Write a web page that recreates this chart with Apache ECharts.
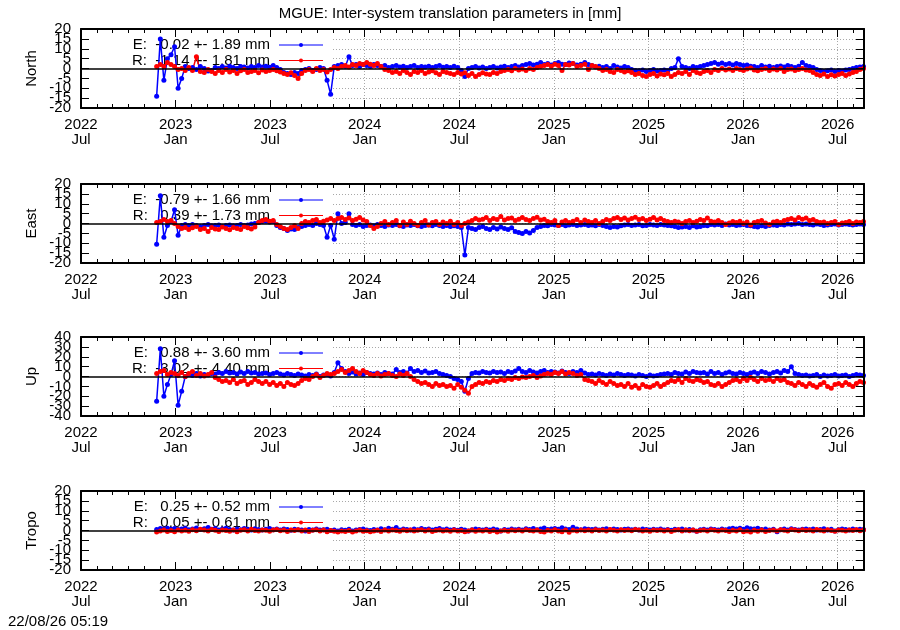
<!DOCTYPE html>
<html>
<head>
<meta charset="utf-8">
<title>MGUE inter-system translation</title>
<script src="https://cdn.jsdelivr.net/npm/echarts@6.0.0/dist/echarts.min.js"></script>
<style>
  html, body { margin: 0; padding: 0; background: #fff; }
  #chart-view { width: 900px; height: 630px; }
</style>
</head>
<body>
<div id="chart-view"></div>
<script>
// weekly samples, first one on startDate
var startDate = [2022, 11, 25];
var endDate = [2026, 8, 22];
var stepDays = 7;
var halfYearNames = ['Jan', 'Jul'];
var panelNames = ['North', 'East', 'Up', 'Tropo'];
var yRanges = [[-20, 20, 5], [-20, 20, 5], [-40, 40, 10], [-20, 20, 5]];
var legendE = ['E:  -0.02 +- 1.89 mm', 'E:  -0.79 +- 1.66 mm', 'E:   0.88 +- 3.60 mm', 'E:   0.25 +- 0.52 mm'];
var legendR = ['R:  -1.14 +- 1.81 mm', 'R:   0.39 +- 1.73 mm', 'R:  -3.02 +- 4.40 mm', 'R:   0.05 +- 0.61 mm'];

// North
var nE = [-14, 15, -6, 5, 7, 11, -10, -5, 1, 0,
  0.5, -0.5, 1, 0, -1.3, -1, 0.5, 0, 1, 0.3,
  1.2, 0.5, 0, 1, 0.8, 0.2, 1, 0.5, 1.5, 0.8,
  1.2, 0.6, 1.5, 0.5, -0.5, -2, -2.5, -3, -2, -2.5,
  -1, -0.5, 0, -1, -0.5, 0.5, 0, -6, -13, 1,
  1.5, 2, 1, 6, 1.5, 2, 1, 2, 1.5, 1,
  2, 1.5, 1, 1.5, 0.5, 1, 1.5, 0.8, 1.2, 0.5,
  1, 1.5, 0.5, 1, 0.8, 1.2, 0.5, 1, 1.5, 0.6,
  1, 0.5, 1.2, 0.5, -1, -4, 0, 0.5, 1, 0.3,
  0.8, 0, 0.5, 1, 0.2, 0.8, 1.2, 0.5, 1, 1.5,
  0.8, 1.5, 2, 2.5, 1.8, 2.2, 3, 2, 2.5, 1.8,
  2.5, 3, 2.2, 2, 2.8, 2.5, 1.8, 2.2, 3, 2,
  1.5, 0.8, 1.2, 0.5, 1, 0, 1.5, 0.8, 0.2, 1,
  0.5, -0.5, -1, -1.2, -0.8, -1.5, -1, -0.5, -1.3, -1,
  -0.8, -1.2, 0, 0.5, 5, 1, 0.5, 0, 1, 0.5,
  1, 1.5, 2, 2.5, 3, 2.2, 2.8, 2, 2.5, 1.8,
  2.5, 2, 1.5, 1.8, 1.2, 1, 0.5, 1.5, 0.8, 1.2,
  0.5, 1, 1.3, 0.8, 1.5, 1, 0.5, 1.2, 3, 1.5,
  1, 0.5, -0.5, -1, -1.5, -1.2, -0.8, -1.5, -1, -1.3,
  -0.8, -0.5, 0, 0.5, 0.8, 1];
var nR = [1, 2, 1, 3, 2, 1, -0.5, 0, -1, 0.5,
  -1, 6, -1.5, -2, -0.5, -1.5, -2.5, -1, -2, -0.5,
  -1.8, -1, -2.5, -1.2, -0.5, -2, -1.5, -1, -2.2, -0.8,
  -1.5, -1, -0.5, -1.2, -1.8, -2.5, -3, -2.2, -3.5, -5,
  -2.5, -1, -0.5, -1.5, 0, -1, -0.5, -1.8, -0.5, 0.5,
  0, 1, 1.5, 0.8, 2, 1.5, 2.5, 2, 3, 2.2,
  1.5, 2.5, 1, -0.5, -1, -2, -1.5, -2.5, -1, -2,
  -3, -1.5, -2, -1, -2.5, -1.8, -1.2, -2.2, -3, -1.5,
  -2, -2.5, -3, -2, -2.8, -2.2, -3.5, -2.5, -4, -3,
  -2.2, -2.8, -3, -2, -2.5, -1.5, -1, -0.5, -1.2, 0,
  -0.8, -0.3, -1, 0, -0.5, 0.5, 1, 1.5, 2, 1.2,
  2.2, 1.5, -1, 2, 1.8, 2.5, 1, 1.5, 2.2, -0.5,
  1.5, 1, 0, -1, -0.5, -1.5, -2, -0.5, -1, -1.8,
  -1.2, -2, -3, -2.5, -3.5, -4, -3, -2.5, -3.8, -2.8,
  -3.2, -2.5, -4, -3, -2, -2.5, -1.5, -3, -1, -2,
  -2.5, -1.5, -1, -2, -0.5, -1, 0, -0.8, -0.3, -1,
  0, -0.5, -1, -0.2, 0.2, -0.8, -1.2, -0.5, 0, -1,
  -0.3, -0.8, 0, -1.5, -0.5, -0.2, -1, -0.5, 0, -0.8,
  -1, -2, -3, -3.5, -2.8, -4, -3.2, -3.8, -3, -2.5,
  -3.5, -2.8, -2, -1.5, -0.5, 0];

// East
var eE = [-10.5, 14, -7, -1, 1, 7, -6, -1, -0.5, -1,
  -0.5, -1, -1.5, -1, -0.5, -1.2, -1, -0.8, -1.5, -1,
  -0.8, -1.2, -1, -0.5, -1, -0.8, -0.3, 0, 0.5, 1,
  1.2, 0.8, 1, -1, -2, -2.5, -3.5, -2.8, -3, -2,
  -1.5, -1, -0.5, -1, 0, -0.5, -1, -7, -1, -8,
  5, 0, 0.5, 5, -0.5, -1, -0.5, -1.5, -1, -0.8,
  -1.2, -0.5, -1, -1.5, -0.8, -1, -0.5, -1.2, -1.5, -0.8,
  -1, -0.5, -1.2, -1.5, -1, -0.8, -1.2, -0.5, -1, -1.5,
  -1, -1.5, -1.2, -1.5, -2, -16, -2, -2.5, -3, -2,
  -1.5, -2.5, -3, -2, -2.8, -1.8, -2.5, -3, -2.2, -4,
  -4.5, -5, -4, -4.8, -3.5, -2, -1.5, -1, -1.2, -0.5,
  -0.8, -1, -0.5, -1.2, -0.8, -0.5, -1, -0.8, -0.5, -1,
  -0.8, -1.2, -0.5, -1, -1.5, -2, -1.5, -1.8, -1.2, -0.8,
  -0.5, -1, -0.8, -0.5, -1.2, -1, -0.5, -0.8, -1, -0.5,
  -0.8, -1, -1.2, -1.5, -2, -1.8, -1.5, -2, -1.2, -1.8,
  -1.5, -1, -1.2, -0.5, -0.8, -0.5, -1, -0.3, -0.8, -0.5,
  -1, -0.8, -0.5, -1, -1.2, -1.5, -1.8, -1.2, -1.5, -1,
  -0.8, -1, -0.5, -0.8, -0.3, -0.5, -0.2, 0, -0.5, -0.3,
  -0.5, -0.8, -0.3, -0.5, -1, -0.8, -0.5, -0.3, -0.8, -0.5,
  -0.3, -0.5, -0.8, -0.5, -0.2, -0.5];
var eR = [0.5, 1, 2, 1, 1.5, 0, -1.5, -2.5, -2, -3,
  -2.2, -1.5, -3, -2.5, -4, -2, -2.8, -3, -1.8, -2.5,
  -3.2, -2, -2.5, -3, -1.5, -2.2, -2.8, -1.8, 0.5, 1.5,
  2, 1.2, 1.5, -0.5, -1.5, -2.5, -3, -2, -1.2, -2.5,
  0, 1, 0.5, 1.5, 2, 0.5, 1.2, 1.8, 2.5, 1.5,
  2.5, 3, 2, 2.8, 1.5, 2.2, 3, 1.8, 1, -1,
  -2.5, -1.5, 0, 1, -0.5, 0.5, 1.5, -1, 0.8, -0.5,
  1.2, 0, -1, 0.5, 1.5, -0.8, 0.5, 1, -0.5, 0.8,
  0, 1.2, -0.5, 0.5, -1, 0, 0.8, 1.5, 2.5, 1.8,
  2.2, 3, 1.5, 2.5, 2, 3.5, 1.8, 2.5, 2.8, 1.5,
  2.2, 3, 2, 1.5, 2.5, 3.2, 1.8, 2.2, 1, 0.5,
  1.5, -1, 0.8, 1.5, 0.5, 1.2, 2, 0.5, 1.8, 1,
  0.5, 1.5, 0, 1, 2, 1.5, 2.5, 3, 2, 2.8,
  1.8, 2.5, 3.2, 2, 2.5, 1.5, 2.2, 3, 1.8, 2.5,
  1.5, 1, 0.5, 1.2, 0.8, 0, 1, 1.5, 0.5, 1.2,
  2, 1.5, 2.8, 1.2, 0.8, 1.5, 0.5, -0.5, 0.2, 1,
  0.5, 1.2, 0, 0.8, -0.8, 0.5, 1, 1.5, 0.2, -0.5,
  0.8, 1.2, 0.5, 1.5, 2, 2.5, 1.8, 3, 2.2, 2.8,
  1.5, 2, 1, 0.5, 0.8, 0, 0.5, 1, -0.5, 0.2,
  0.5, 1, 0, 0.8, 0.5, 1];

// Up
var uE = [-25, 28, -20, -8, 2, 16, -29, -15, 0, 2,
  1, 3, 0.5, 2, 1.5, 3, 2.5, 4, 3, 5,
  3.5, 4, 2.5, 4.5, 3, 5, 3.5, 4, 2.5, 3,
  3.5, 2, 3, 4, 2.5, 1.5, 3, 2, 1, 2.5,
  1.5, 0.5, 2, 1, 2.5, 0, 1.5, 2, 0.5, 4,
  14, 8, 5, 3, 4.5, 2.5, 3.5, 2, 4, 3,
  2.5, 3.5, 2, 4, 3, 2.5, 7, 4, 5, 3.5,
  8, 5, 6, 4, 5.5, 3.5, 4, 5, 3, 2,
  1, 0, -2, -3, -5, -15, -2, 3, 4, 3.5,
  5, 4, 3.5, 5, 4, 4.5, 3, 5, 4, 5.5,
  8, 5, 4, 6, 4.5, 3.5, 5, 6, 4, 5,
  4.5, 3.5, 5.5, 4, 3, 5, 4, 6, 3.5, 2,
  2.5, 1.5, 3, 2, 1, 2.5, 1.5, 3, 2, 1,
  2, 1.5, 0.5, 2, 1, 0, 1.5, 0.5, 1, 2,
  2.5, 3, 2, 4, 3, 2.5, 4.5, 3, 5, 4,
  3.5, 4, 2.5, 5, 3, 4, 2, 3.5, 4.5, 3,
  2.5, 4, 3, 2, 3.5, 4.5, 3, 5, 4, 2.5,
  4, 5, 3.5, 6, 5, 10, 3, 2, 1, 1.5,
  0.5, 1, 2, 0, 1.5, 0.5, 1, 2, 0.5, 1,
  1.5, 0, 1, 2, 1.5, 1];
var uR = [3, 5, 6, 2, 4, 3, 1, 4, 0, 3,
  5, 1, 3, 0.5, 2, 4, -1, -3, -5, -4,
  -6, -3, -7, -5, -4, -8, -6, -3, -5, -7,
  -5, -8, -6, -9, -7, -10, -6, -8, -9, -7,
  -4, -2, -3, 0, 2, -1, 1, 3, 2, 3,
  5, 7, 4, 6, 8, 5, 3, 6, 4, 2,
  1, 3, 0.5, 2, 3, 1, 0, 2.5, 1, 3,
  0, -3, -5, -7, -6, -8, -10, -7, -9, -8,
  -10, -9, -12, -8, -11, -14, -17, -10, -8, -6,
  -7, -5, -6, -4, -5, -3, -4, -2, -3, -1,
  -2, -0.5, -1, 0, 1, -1, 0.5, 2, 3, 2,
  4, 3, 5, 2.5, 4, 3, 1, 2, -3, -4,
  -5, -7, -4, -6, -8, -5, -7, -9, -8, -10,
  -7, -11, -9, -12, -8, -10, -11, -9, -7, -10,
  -8, -6, -4, -5, -3, -6, -2, -4, -5, -3,
  -4, -6, -5, -8, -9, -7, -10, -8, -6, -4,
  -3, -5, -2, -4, -1, -3, -5, -2, -4, -3,
  -5, -2, -4, -3, -6, -7, -9, -6, -8, -10,
  -7, -9, -11, -8, -6, -10, -12, -8, -7, -9,
  -6, -8, -10, -7, -5, -6];

// Tropo
var tE = [0.5, 1, 0.8, 1.2, 0.6, 1, 0.5, 0.8, 1.2, 0.4,
  0.8, 1.3, 0.5, 0.9, 1.5, 0.6, 1, 0.3, 0.7, 1.1,
  0.5, 0.2, 0.8, 0.4, 1, 0.6, 0.3, 0.9, 0.5, 0.2,
  0.6, 1, 0.4, 0.7, 0.3, 0.8, 0.5, 0.1, 0.6, 0.4,
  0.2, -0.3, 0.5, 0.3, 0.8, 0.2, 0.4, 0.6, 0, 0.3,
  -0.2, 0.4, 0.1, 0.6, -0.3, 0.2, 0.5, 0.8, 0.3, 0,
  0.5, 0.2, 0.9, 0.4, 1.2, 0.6, 1.5, 0.3, 0.8, 0.5,
  0.2, 0.7, 0.4, 1, 0.5, 0.8, 0.3, 0.6, 1, 0.4,
  0.7, 0.3, 0.5, 0.1, 0.6, 0.2, -0.3, 0.4, 0.8, 0.5,
  0.3, 0.6, 0.2, 0.8, 0.4, -0.2, 0.5, 0.3, 0.7, 0.4,
  0.6, 0.2, 0.9, 0.5, 1, 0.4, 0.7, 1.3, 0.5, 0.8,
  1, 0.6, 1.4, 0.8, 0.5, 1.6, 0.7, 0.4, 0.9, 0.6,
  0.5, 0.8, 0.3, 0.6, 0.9, 0.4, 0.7, 0.5, 0.2, 0.6,
  0.8, 0.4, 0.6, 0.3, 0.7, 0.5, 0.2, 0.6, 0.4, 0.8,
  0.3, 0.5, 0.1, 0.6, 0.4, 0.7, 0.2, 0.5, 0.3, -0.4,
  0.4, 0.6, 0.2, 0.8, 0.5, 0.3, 0.7, 0.4, 0.9, 1.2,
  0.8, 1.1, 0.6, 1.4, 0.9, 0.7, 1.2, 0.5, 0.8, 0.3,
  0.6, -0.6, 0.4, 0.7, 0.3, 0.9, 0.5, 0.2, 0.6, 0.8,
  0.4, 0.7, 0.3, 0.5, 0.9, 0.2, 0.6, -0.2, 0.4, 0.7,
  0.5, 0.3, 0.8, 0.4, 0.6, 0.5];
var tR = [-0.8, -0.3, 0.2, -0.5, 0, -0.6, 0.3, -0.2, 0.1, -0.4,
  0.4, -0.1, 0.6, 0.2, -0.3, 0.5, 0.1, -0.5, 0.3, 0,
  -0.4, 0.2, -0.6, 0.1, 0.4, -0.2, 0.6, 0, -0.3, 0.3,
  0.1, -0.4, 0.2, 0.5, -0.1, 0.3, -0.5, 0.2, 0, 0.4,
  -0.2, 0.3, -0.5, 0.1, 0.4, -0.3, 0.2, -0.6, 0, -0.4,
  -0.7, -0.2, -0.5, 0, -0.8, -0.3, 0.2, -0.4, -0.1, -0.6,
  -0.3, 0.1, -0.5, 0.2, -0.2, 0.3, 0, -0.4, 0.2, -0.1,
  0.3, -0.3, 0.1, 0.4, -0.2, 0.2, -0.5, 0, 0.3, -0.2,
  0.1, -0.4, 0.2, -0.3, 0, -0.6, -0.2, 0.3, -0.4, 0.1,
  -0.3, 0.2, -0.5, 0, -0.8, -0.2, 0.1, -0.4, 0.3, -0.1,
  0.2, -0.3, 0.4, 0, -0.2, 0.3, -0.5, -0.8, 0.1, -0.3,
  0.4, -0.2, -0.6, 0.2, -0.9, 0.1, -0.3, 0.3, -0.1, 0.2,
  -0.2, 0.4, 0, 0.3, -0.3, 0.5, 0.1, -0.2, 0.4, 0,
  0.3, -0.1, 0.5, 0.2, -0.3, 0.1, -0.4, 0.3, 0, 0.2,
  -0.2, 0.3, -0.5, 0.1, 0.4, -0.3, 0.2, -0.1, 0.3, -0.4,
  0, 0.3, -0.2, 0.4, 0.1, -0.3, 0.2, 0, -0.5, 0.1,
  -0.3, 0.4, -0.6, -0.2, -0.8, 0.1, -0.4, 0.2, -0.5, 0,
  0.3, -0.2, 0.4, 0.1, -0.3, 0.5, 0.2, -0.1, 0.4, 0,
  0.2, -0.3, 0.5, 0.1, -0.2, 0.4, 0, -0.4, 0.3, 0.1,
  -0.2, 0.3, 0, 0.4, -0.1, 0.2];

var seriesE = [nE, eE, uE, tE];
var seriesR = [nR, eR, uR, tR];

// layout (pixels)
var panelTops = [29, 184, 337, 491];
var panelHeight = 79;
var plotLeft = 81;
var plotRight = 864;
var keyRight = 331;   // grid lines are hidden left of this (key box)
var font = '"Liberation Sans", Arial, sans-serif';

/**
 * date -> months since 2022 Jan (fractional), axis unit is one month
 */
function monthIndex(y, m, d) {
    var dim = new Date(Date.UTC(y, m, 0)).getUTCDate();
    return (y - 2022) * 12 + (m - 1) + (d - 1) / dim;
}
function buildData(values) {
    var t0 = Date.UTC(startDate[0], startDate[1] - 1, startDate[2]);
    var out = [];
    for (var i = 0; i < values.length; i++) {
        var dt = new Date(t0 + i * stepDays * 86400000);
        out.push([monthIndex(dt.getUTCFullYear(), dt.getUTCMonth() + 1, dt.getUTCDate()), values[i]]);
    }
    return out;
}
function xLabel(v) {
    var k = Math.round(v);
    if (Math.abs(v - k) > 1e-6 || k % 6 !== 0) return '';
    return (2022 + Math.floor(k / 12)) + '\n' + halfYearNames[(k % 12) / 6];
}
// labels of the 'odd' ticks only (the even ones go on a second axis, so nothing gets hidden)
function oddLabel(step) {
    return function (v) { return Math.round(v / step) % 2 === 0 ? '' : String(v); };
}

var xMin = monthIndex(2022, 7, 1);
var xMax = monthIndex(endDate[0], endDate[1], endDate[2]);

var grids = [], xAxes = [], yAxes = [], series = [], graphics = [];
var tickLine = { color: '#000', width: 1 };
var gridLine = { color: '#a8a8a8', width: 1, type: [1, 2] };

for (var p = 0; p < 4; p++) {
    var pTop = panelTops[p];
    var yr = yRanges[p];
    grids.push({ left: plotLeft, right: 900 - plotRight, top: pTop, height: panelHeight, outerBoundsMode: 'none' });

    // x: bottom labels+ticks, top mirrored ticks, grid lines
    xAxes.push({ type: 'value', gridIndex: p, min: xMin, max: xMax, interval: 6, position: 'bottom', z: 12,
        axisLine: { show: true, onZero: false, lineStyle: { color: '#000', width: 2 } },
        axisTick: { show: true, inside: true, length: 8, lineStyle: tickLine },
        minorTick: { show: true, splitNumber: 6, length: 4, lineStyle: tickLine },
        axisLabel: { formatter: xLabel, fontFamily: font, fontSize: 15, color: '#000', margin: 9, lineHeight: 15 },
        splitLine: { show: false } });
    xAxes.push({ type: 'value', gridIndex: p, min: xMin, max: xMax, interval: 6, position: 'top', z: 12,
        axisLine: { show: true, onZero: false, lineStyle: { color: '#000', width: 2 } },
        axisTick: { show: true, inside: true, length: 8, lineStyle: tickLine },
        minorTick: { show: true, splitNumber: 6, length: 4, lineStyle: tickLine },
        axisLabel: { show: false }, splitLine: { show: false } });
    xAxes.push({ type: 'value', gridIndex: p, min: xMin, max: xMax, interval: 6, position: 'bottom', z: 0,
        axisLine: { show: false }, axisTick: { show: false }, axisLabel: { show: false },
        splitLine: { show: true, lineStyle: gridLine } });

    // y: left ticks + odd labels, left even labels, right mirrored ticks, grid lines
    yAxes.push({ type: 'value', gridIndex: p, min: yr[0], max: yr[1], interval: yr[2], position: 'left', z: 12,
        axisLine: { show: true, onZero: false, lineStyle: { color: '#000', width: 2 } },
        axisTick: { show: true, inside: true, length: 8, lineStyle: tickLine },
        axisLabel: { margin: 10, formatter: oddLabel(yr[2]), fontFamily: font, fontSize: 15, color: '#000' },
        splitLine: { show: false } });
    yAxes.push({ type: 'value', gridIndex: p, min: yr[0], max: yr[1], interval: yr[2] * 2, position: 'left', z: 12,
        axisLine: { show: false }, axisTick: { show: false },
        axisLabel: { margin: 10, showMinLabel: true, showMaxLabel: true, fontFamily: font, fontSize: 15, color: '#000' },
        splitLine: { show: false } });
    yAxes.push({ type: 'value', gridIndex: p, min: yr[0], max: yr[1], interval: yr[2], position: 'right', z: 12,
        axisLine: { show: true, onZero: false, lineStyle: { color: '#000', width: 2 } },
        axisTick: { show: true, inside: true, length: 8, lineStyle: tickLine },
        axisLabel: { show: false }, splitLine: { show: false } });
    yAxes.push({ type: 'value', gridIndex: p, min: yr[0], max: yr[1], interval: yr[2], position: 'left', z: 0,
        axisLine: { show: false }, axisTick: { show: false }, axisLabel: { show: false },
        splitLine: { show: true, lineStyle: gridLine } });

    series.push({
        type: 'line', name: 'E' + p, xAxisIndex: p * 3, yAxisIndex: p * 4,
        data: buildData(seriesE[p]), z: 10, silent: true,
        symbol: 'circle', symbolSize: 5,
        lineStyle: { color: '#0000ff', width: 1.5 }, itemStyle: { color: '#0000ff' }
    });
    series.push({
        type: 'line', name: 'R' + p, xAxisIndex: p * 3, yAxisIndex: p * 4,
        data: buildData(seriesR[p]), z: 10, silent: true,
        symbol: 'circle', symbolSize: 5,
        lineStyle: { color: '#ff0000', width: 1.5 }, itemStyle: { color: '#ff0000' },
        markLine: {
            silent: true, z: 11, symbol: ['none', 'none'], label: { show: false },
            lineStyle: { color: '#000', width: 1.5, type: 'solid' },
            data: [{ yAxis: 0 }]
        }
    });

    // key box hides grid lines on the left
    graphics.push({ type: 'rect', z: 1, silent: true,
        shape: { x: plotLeft + 1, y: pTop + 1, width: keyRight - plotLeft - 1, height: panelHeight - 2 },
        style: { fill: '#fff' } });
    // key entries
    var rows = [[legendE[p], '#0000ff', pTop + 16], [legendR[p], '#ff0000', pTop + 31.5]];
    for (var r = 0; r < rows.length; r++) {
        graphics.push({ type: 'text', z: 5, silent: true, x: 270, y: rows[r][2],
            style: { text: rows[r][0], font: '15px ' + font, fill: '#000', textAlign: 'right', verticalAlign: 'middle' } });
        graphics.push({ type: 'line', z: 5, silent: true,
            shape: { x1: 279, y1: rows[r][2], x2: 323, y2: rows[r][2] },
            style: { stroke: rows[r][1], lineWidth: 1 } });
        graphics.push({ type: 'circle', z: 5, silent: true,
            shape: { cx: 301, cy: rows[r][2], r: 2 }, style: { fill: rows[r][1] } });
    }
    // panel name
    graphics.push({ type: 'text', z: 5, silent: true, x: 32, y: pTop + panelHeight / 2, rotation: Math.PI / 2,
        style: { text: panelNames[p], font: '15px ' + font, fill: '#000', textAlign: 'center', verticalAlign: 'middle' } });
}

graphics.push({ type: 'text', z: 5, silent: true, x: 450, y: 14,
    style: { text: 'MGUE: Inter-system translation parameters in [mm]', font: '15px ' + font, fill: '#000',
             textAlign: 'center', verticalAlign: 'middle' } });
graphics.push({ type: 'text', z: 5, silent: true, x: 8, y: 622,
    style: { text: '22/08/26 05:19', font: '15px ' + font, fill: '#000', textAlign: 'left', verticalAlign: 'middle' } });

var trendChart = echarts.init(document.getElementById('chart-view'), null, { renderer: 'canvas' });
trendChart.setOption({
    animation: false,
    backgroundColor: '#fff',
    grid: grids,
    xAxis: xAxes,
    yAxis: yAxes,
    series: series,
    graphic: { elements: graphics }
});
</script>
</body>
</html>
